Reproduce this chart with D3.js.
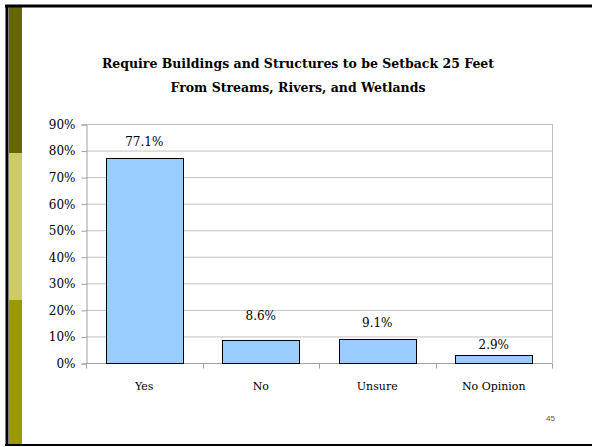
<!DOCTYPE html>
<html>
<head>
<meta charset="utf-8">
<script src="https://cdn.jsdelivr.net/npm/d3@7"></script>
<style>
  html, body { margin: 0; padding: 0; background: #fff; }
  svg { display: block; }
</style>
</head>
<body>
<div id="chart"></div>
<script>
// Chart data
const categories = ["Yes", "No", "Unsure", "No Opinion"];
const values = [77.1, 8.6, 9.1, 2.9];
const valueLabels = ["77.1%", "8.6%", "9.1%", "2.9%"];
const yTicks = [0, 10, 20, 30, 40, 50, 60, 70, 80, 90];
const titleLines = [
  "Require Buildings and Structures to be Setback 25 Feet",
  "From Streams, Rivers, and Wetlands"
];
const pageNumber = "45";

// layout
const W = 592, H = 447;
const plot = { left: 86, right: 552, top: 124, bottom: 363 };
// small per-label vertical nudges (labels were hand-placed in the original)
const labelGap = [16, 24, 16, 10];

const svg = d3.select("#chart").append("svg")
  .attr("width", W)
  .attr("height", H);

// slide frame
svg.append("rect").attr("x", 0).attr("y", 0).attr("width", W).attr("height", H).attr("fill", "#fff");
svg.append("rect").attr("x", 9).attr("y", 7).attr("width", 13).attr("height", 146).attr("fill", "#666600");
svg.append("rect").attr("x", 9).attr("y", 153).attr("width", 13).attr("height", 147).attr("fill", "#cccc66");
svg.append("rect").attr("x", 9).attr("y", 300).attr("width", 13).attr("height", 144).attr("fill", "#999900");
svg.append("line").attr("x1", 5).attr("x2", W).attr("y1", 6).attr("y2", 6).attr("stroke", "#000").attr("stroke-width", 3);
svg.append("line").attr("x1", 7).attr("x2", 7).attr("y1", 5).attr("y2", 446).attr("stroke", "#000").attr("stroke-width", 3);
svg.append("line").attr("x1", 5).attr("x2", W).attr("y1", 445).attr("y2", 445).attr("stroke", "#000").attr("stroke-width", 2);

// title
svg.append("text")
  .attr("x", 298)
  .attr("y", 68)
  .attr("text-anchor", "middle")
  .style("font-family", "'DejaVu Serif', serif")
  .style("font-weight", "bold")
  .style("font-size", "12.5px")
  .selectAll("tspan")
  .data(titleLines)
  .enter()
  .append("tspan")
  .attr("x", 298)
  .attr("dy", (d, i) => i === 0 ? 0 : 24)
  .text(d => d);

// scales
const x = d3.scaleBand()
  .domain(categories)
  .range([plot.left, plot.right])
  .paddingInner(0.34)
  .paddingOuter(0.17);

const y = d3.scaleLinear()
  .domain([0, 90])
  .range([plot.bottom, plot.top]);

// gridlines
svg.append("g")
  .selectAll("line")
  .data(yTicks)
  .enter()
  .append("line")
  .attr("x1", plot.left)
  .attr("x2", plot.right)
  .attr("y1", d => y(d) + 0.5)
  .attr("y2", d => y(d) + 0.5)
  .attr("stroke", "#c0c0c0")
  .attr("stroke-width", 1);

// right border of plot
svg.append("line")
  .attr("x1", plot.right + 0.5).attr("x2", plot.right + 0.5)
  .attr("y1", plot.top).attr("y2", plot.bottom)
  .attr("stroke", "#c0c0c0");

// y axis
const yAxis = svg.append("g")
  .attr("transform", `translate(${plot.left + 0.5},0.5)`)
  .call(d3.axisLeft(y).tickValues(yTicks).tickSize(5).tickFormat(d => d + "%"));
yAxis.select(".domain").attr("stroke", "#a0a0a0");
yAxis.selectAll(".tick line").attr("stroke", "#a0a0a0");
yAxis.selectAll(".tick text")
  .attr("x", -11)
  .style("font-family", "'DejaVu Serif', serif")
  .style("font-size", "12px")
  .attr("fill", "#000");

// x axis (ticks at category boundaries)
const xAxisG = svg.append("g").attr("transform", `translate(0,${plot.bottom + 0.5})`);
xAxisG.append("line")
  .attr("x1", plot.left).attr("x2", plot.right)
  .attr("stroke", "#a0a0a0");
const step = x.step();
xAxisG.selectAll(".bt")
  .data(d3.range(categories.length + 1))
  .enter()
  .append("line")
  .attr("x1", i => Math.round(plot.left + i * step) + 0.5)
  .attr("x2", i => Math.round(plot.left + i * step) + 0.5)
  .attr("y1", 0).attr("y2", 5)
  .attr("stroke", "#a0a0a0");
xAxisG.selectAll("text")
  .data(categories)
  .enter()
  .append("text")
  .attr("x", d => x(d) + x.bandwidth() / 2)
  .attr("y", 26)
  .attr("text-anchor", "middle")
  .style("font-family", "'DejaVu Serif', serif")
  .style("font-size", "11px")
  .text(d => d);

// bars
svg.append("g")
  .selectAll("rect")
  .data(values)
  .enter()
  .append("rect")
  .attr("x", (d, i) => Math.round(x(categories[i])) + 0.5)
  .attr("y", d => Math.round(y(d)) + 0.5)
  .attr("width", Math.round(x.bandwidth()))
  .attr("height", d => Math.round(plot.bottom) - Math.round(y(d)))
  .attr("fill", "#99ccff")
  .attr("stroke", "#000")
  .attr("stroke-width", 1);

// value labels
svg.append("g")
  .selectAll("text")
  .data(values)
  .enter()
  .append("text")
  .attr("x", (d, i) => x(categories[i]) + x.bandwidth() / 2)
  .attr("y", (d, i) => y(d) - labelGap[i] + 4)
  .attr("text-anchor", "middle")
  .style("font-family", "'DejaVu Serif', serif")
  .style("font-size", "12px")
  .text((d, i) => valueLabels[i]);

// page number
svg.append("text")
  .attr("x", 555)
  .attr("y", 421)
  .attr("text-anchor", "end")
  .style("font-family", "'Liberation Sans', Arial, sans-serif")
  .style("font-size", "8px")
  .attr("fill", "#555")
  .text(pageNumber);
</script>
</body>
</html>
